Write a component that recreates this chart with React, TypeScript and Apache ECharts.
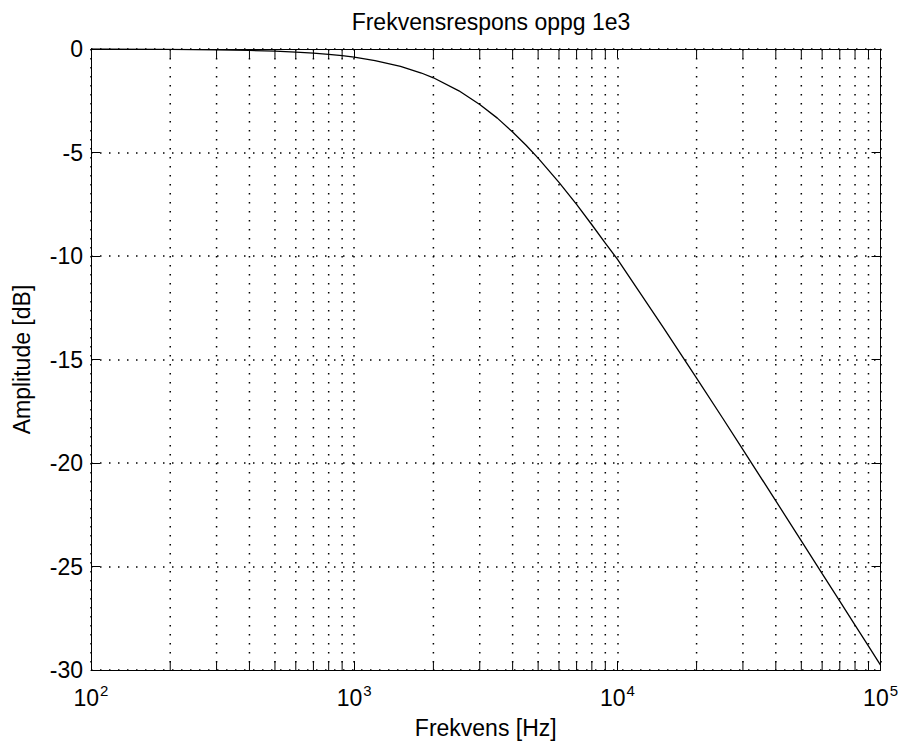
import React, { useEffect, useRef } from "react";
import * as echarts from "echarts";

// Frequency points (Hz) and amplitude (dB)
const freqHz = [
  100, 200, 300, 400, 500, 600, 700, 800, 900, 1000, 1200, 1500, 1800, 2000,
  2500, 3000, 3500, 4000, 4500, 5000, 6000, 7000, 8000, 9000, 10000, 12000,
  15000, 20000, 25000, 30000, 40000, 50000, 60000, 70000, 80000, 90000, 100000,
];
const ampDb = [
  0.0, -0.02, -0.04, -0.07, -0.1, -0.15, -0.2, -0.26, -0.32, -0.39, -0.56,
  -0.84, -1.16, -1.39, -2.02, -2.68, -3.34, -4.01, -4.65, -5.27, -6.44, -7.51,
  -8.49, -9.38, -10.15, -11.65, -13.48, -15.9, -17.79, -19.35, -21.83, -23.76,
  -25.34, -26.67, -27.83, -28.85, -29.76,
];

// Axis ticks
const xMajorTicks = [100, 1000, 10000, 100000];
const xExponents = ["2", "3", "4", "5"];
const yTicks = [0, -5, -10, -15, -20, -25, -30];
const minorMultipliers = [2, 3, 4, 5, 6, 7, 8, 9];

const titleText = "Frekvensrespons oppg 1e3";
const xName = "Frekvens [Hz]";
const yName = "Amplitude [dB]";

const FONT = "'Liberation Sans', Arial, sans-serif";
const FS = 23;

export default function App() {
  const ref = useRef<HTMLDivElement>(null);

  useEffect(() => {
    document.body.style.margin = "0";
    if (!ref.current) return;
    const chart = echarts.init(ref.current, undefined, { renderer: "svg" });

    const minorTicks: number[][] = [];
    for (let d = 0; d < xMajorTicks.length - 1; d++) {
      for (const m of minorMultipliers) {
        minorTicks.push([xMajorTicks[d] * m, yTicks[yTicks.length - 1]]);
      }
    }

    const xMin = xMajorTicks[0];
    const xMax = xMajorTicks[xMajorTicks.length - 1];
    const yMin = yTicks[yTicks.length - 1];
    const yMax = yTicks[0];

    const dotted = { color: "#000", width: 1.5, type: [1.5, 7.5] as number[] };

    chart.setOption({
      animation: false,
      backgroundColor: "#fff",
      textStyle: { fontFamily: FONT, color: "#000" },
      title: {
        text: titleText,
        left: 486,
        top: 5,
        textAlign: "center",
        textStyle: { fontFamily: FONT, fontSize: FS, fontWeight: "normal", color: "#000" },
      },
      grid: { left: 91, right: 16, top: 49, bottom: 72 },
      xAxis: [
        {
          type: "log",
          logBase: 10,
          min: xMin,
          max: xMax,
          position: "bottom",
          name: xName,
          nameLocation: "middle",
          nameGap: 46,
          nameTextStyle: { fontFamily: FONT, fontSize: FS, color: "#000" },
          axisLine: { show: true, onZero: false, lineStyle: { color: "#000", width: 1 } },
          axisTick: { show: true, inside: true, length: 9, lineStyle: { color: "#000" } },
          splitLine: { show: true, lineStyle: dotted },
          axisLabel: {
            show: true,
            margin: 16,
            showMinLabel: true,
            showMaxLabel: true,
            formatter: (v: number) => {
              const i = xMajorTicks.findIndex((t) => Math.abs(t - v) / t < 1e-6);
              return i >= 0 ? `{b|10}{e|${xExponents[i]}}` : "";
            },
            rich: {
              b: { fontFamily: FONT, fontSize: FS, lineHeight: 23, color: "#000", verticalAlign: "bottom" },
              e: { fontFamily: FONT, fontSize: 15, lineHeight: 15, color: "#000", verticalAlign: "bottom", padding: [0, 0, 11, 1] },
            },
          },
        },
        {
          type: "log",
          logBase: 10,
          min: xMin,
          max: xMax,
          position: "top",
          axisLine: { show: true, onZero: false, lineStyle: { color: "#000", width: 1 } },
          axisTick: { show: true, inside: true, length: 9, lineStyle: { color: "#000" } },
          splitLine: { show: false },
          axisLabel: { show: false },
        },
      ],
      yAxis: [
        {
          type: "value",
          min: yMin,
          max: yMax,
          interval: 5,
          position: "left",
          name: yName,
          nameLocation: "middle",
          nameGap: 58,
          nameRotate: 90,
          nameTextStyle: { fontFamily: FONT, fontSize: FS, color: "#000" },
          axisLine: { show: true, onZero: false, lineStyle: { color: "#000", width: 1 } },
          axisTick: { show: true, inside: true, length: 9, lineStyle: { color: "#000" } },
          splitLine: { show: true, lineStyle: dotted },
          axisLabel: { fontFamily: FONT, fontSize: FS, color: "#000", margin: 8 },
        },
        {
          type: "value",
          min: yMin,
          max: yMax,
          interval: 5,
          position: "right",
          axisLine: { show: true, onZero: false, lineStyle: { color: "#000", width: 1 } },
          axisTick: { show: true, inside: true, length: 9, lineStyle: { color: "#000" } },
          splitLine: { show: false },
          axisLabel: { show: false },
        },
      ],
      series: [
        {
          type: "custom",
          xAxisIndex: 0,
          yAxisIndex: 0,
          silent: true,
          clip: false,
          z: 1,
          data: minorTicks,
          encode: { x: 0, y: 1 },
          renderItem: (params: any, api: any) => {
            const cs = params.coordSys;
            const x = api.coord([api.value(0), yMin])[0];
            const top = cs.y;
            const bottom = cs.y + cs.height;
            return {
              type: "group",
              children: [
                {
                  type: "line",
                  shape: { x1: x, y1: top, x2: x, y2: bottom },
                  style: { stroke: "#000", lineWidth: 1.5, lineDash: [1.5, 7.5] },
                },
                {
                  type: "line",
                  shape: { x1: x, y1: bottom, x2: x, y2: bottom - 9 },
                  style: { stroke: "#000", lineWidth: 1 },
                },
                {
                  type: "line",
                  shape: { x1: x, y1: top, x2: x, y2: top + 9 },
                  style: { stroke: "#000", lineWidth: 1 },
                },
              ],
            };
          },
        },
        {
          type: "line",
          xAxisIndex: 0,
          yAxisIndex: 0,
          z: 3,
          showSymbol: false,
          symbol: "none",
          lineStyle: { color: "#000", width: 1.3 },
          data: freqHz.map((f, i) => [f, ampDb[i]]),
        },
      ],
    });

    return () => chart.dispose();
  }, []);

  return <div ref={ref} style={{ width: 901, height: 744 }} />;
}
